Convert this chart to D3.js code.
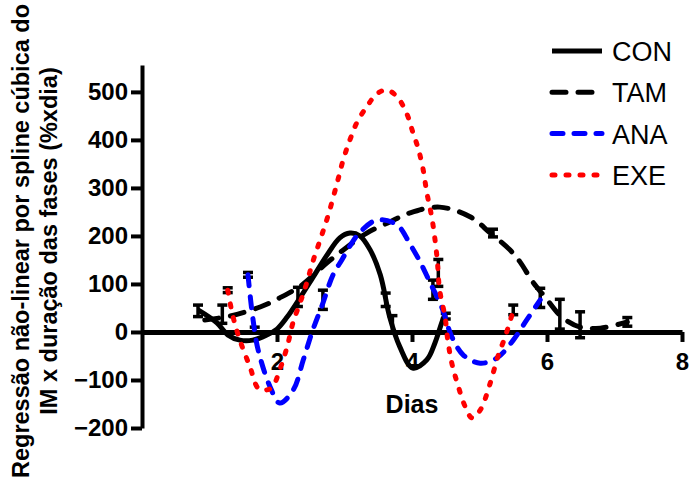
<!DOCTYPE html>
<html>
<head>
<meta charset="utf-8">
<script src="https://d3js.org/d3.v7.min.js"></script>
<style>
  body { margin: 0; background: #fff; }
  svg { display: block; font-family: "Liberation Sans", Arial, Helvetica, sans-serif; }
  .axis path, .axis line { stroke: #000; }
  .axis text { font-size: 24px; font-weight: bold; fill: #000; }
</style>
</head>
<body>
<div id="chart"></div>
<script>
// Fitted spline curves (x = dias, y = %xdia)
var conX = [0.83, 1.11, 1.27, 1.45, 1.64, 1.85, 2.00, 2.15, 2.34, 2.53, 2.74, 2.93, 3.08, 3.23, 3.38, 3.53, 3.67, 3.82, 4.01, 4.22, 4.34, 4.44, 4.50];
var conY = [46, 19, -6, -17, -17, -6, 6, 31, 71, 113, 160, 196, 206, 200, 171, 119, 31, -31, -75, -58, -23, 19, 42];

var tamX = [0.93, 1.30, 1.75, 2.04, 2.37, 2.74, 3.04, 3.33, 3.67, 3.97, 4.41, 4.86, 5.16, 5.45, 5.60, 5.79, 5.97, 6.22, 6.49, 6.79, 7.19];
var tamY = [25, 33, 52, 71, 98, 144, 177, 206, 229, 248, 260, 240, 206, 171, 146, 104, 73, 31, 10, 8, 21];

var anaX = [1.57, 1.64, 1.72, 1.90, 2.04, 2.24, 2.39, 2.53, 2.67, 2.83, 2.96, 3.08, 3.23, 3.48, 3.78, 3.97, 4.12, 4.27, 4.44, 4.59, 4.76, 5.01, 5.26, 5.50, 5.70, 5.90];
var anaY = [119, 31, -37, -115, -148, -121, -58, 4, 56, 119, 150, 179, 208, 233, 223, 183, 146, 102, 52, -10, -48, -65, -54, -17, 25, 67];

var exeX = [1.27, 1.35, 1.45, 1.60, 1.72, 1.82, 1.93, 2.04, 2.15, 2.24, 2.34, 2.44, 2.53, 2.64, 2.76, 2.89, 2.98, 3.08, 3.19, 3.33, 3.48, 3.63, 3.79, 3.93, 4.01, 4.09, 4.16, 4.22, 4.30, 4.37, 4.41, 4.49, 4.53, 4.59, 4.67, 4.79, 4.89, 5.01, 5.16, 5.27, 5.38, 5.48];
var exeY = [87, 31, -17, -73, -117, -121, -115, -79, -31, 21, 60, 102, 146, 192, 244, 310, 358, 400, 438, 469, 496, 504, 488, 452, 417, 383, 342, 290, 233, 156, 87, 31, -17, -65, -106, -156, -179, -163, -106, -52, -10, 35];

// Error bars: position, mean, SEM
var errX = [0.83, 1.19, 1.27, 1.57, 1.67, 2.31, 2.68, 3.61, 3.71, 4.31, 4.39, 4.50, 5.20, 5.50, 5.90, 6.19, 6.49, 7.19];
var errMean = [44, 37, 87, 119, 4, 73, 67, 67, 17, 88, 123, 33, 206, 46, 71, 37, 15, 21];
var errSem = [12, 19, 5, 5, 6, 20, 20, 14, 17, 20, 28, 6, 8, 10, 20, 31, 27, 9];

var seriesNames = ['CON', 'TAM', 'ANA', 'EXE'];
var yTicks = [-200, -100, 0, 100, 200, 300, 400, 500];
var xTicks = [2, 4, 6, 8];

var STYLES = {
  CON: { color: '#000', dash: null },
  TAM: { color: '#000', dash: '14,12' },
  ANA: { color: '#0000ff', dash: '11,11' },
  EXE: { color: '#ff0000', dash: '3,11' }
};

var render = function() {
  var width = 691, height = 487;

  var zip = (xs, ys) => xs.map((x, i) => ({ x: x, y: ys[i] }));
  var data = [
    { name: 'CON', values: zip(conX, conY) },
    { name: 'TAM', values: zip(tamX, tamY) },
    { name: 'ANA', values: zip(anaX, anaY) },
    { name: 'EXE', values: zip(exeX, exeY) }
  ];

  var svg = d3.select('#chart')
    .append('svg')
    .attr('width', width)
    .attr('height', height);

  var xScale = d3.scaleLinear().domain([0, 8]).range([142, 682]);
  var yScale = d3.scaleLinear().domain([-200, 556]).range([428, 65]);

  // Axes
  var yAxis = d3.axisLeft(yScale)
    .tickValues(yTicks)
    .tickSize(11)
    .tickSizeOuter(0)
    .tickPadding(3);

  var xAxis = d3.axisBottom(xScale)
    .tickValues(xTicks)
    .tickSize(10)
    .tickSizeOuter(0)
    .tickPadding(11);

  var yG = svg.append('g')
    .attr('class', 'y axis')
    .attr('transform', `translate(${xScale(0)},0)`)
    .call(yAxis);
  yG.select('.domain').attr('stroke-width', 4);
  yG.selectAll('.tick line').attr('stroke-width', 4);

  var xG = svg.append('g')
    .attr('class', 'x axis')
    .attr('transform', `translate(0,${yScale(0)})`)
    .call(xAxis);
  xG.select('.domain').attr('stroke-width', 5);
  xG.selectAll('.tick line').attr('stroke-width', 4);

  // Axis titles
  svg.append('text')
    .attr('x', 412)
    .attr('y', 413)
    .attr('text-anchor', 'middle')
    .style('font-size', '25px')
    .style('font-weight', 'bold')
    .text('Dias');

  var yTitle = svg.append('text')
    .attr('transform', 'translate(0,241) rotate(-90)')
    .attr('text-anchor', 'middle')
    .style('font-size', '23.5px')
    .style('font-weight', 'bold');
  yTitle.append('tspan').attr('x', 0).attr('y', 29).text('Regressão não-linear por spline cúbica do');
  yTitle.append('tspan').attr('x', 0).attr('y', 57).text('IM x duração das fases (%xdia)');

  // Error bars
  var err = svg.append('g').attr('class', 'errbars')
    .selectAll('g')
    .data(errX.map((x, i) => ({ x: x, m: errMean[i], s: errSem[i] })))
    .enter().append('g')
    .attr('stroke', '#000')
    .attr('stroke-width', 3.5);
  err.append('line')
    .attr('x1', d => xScale(d.x)).attr('x2', d => xScale(d.x))
    .attr('y1', d => yScale(d.m - d.s)).attr('y2', d => yScale(d.m + d.s));
  [-1, 1].forEach(function(sgn) {
    err.append('line')
      .attr('x1', d => xScale(d.x) - 5).attr('x2', d => xScale(d.x) + 5)
      .attr('y1', d => yScale(d.m + sgn * d.s)).attr('y2', d => yScale(d.m + sgn * d.s));
  });

  // Spline curves
  var line = d3.line()
    .x(d => xScale(d.x))
    .y(d => yScale(d.y))
    .curve(d3.curveCatmullRom.alpha(0.5));

  svg.append('g')
    .attr('class', 'lines')
    .selectAll('path')
    .data(data)
    .enter()
    .append('path')
    .attr('fill', 'none')
    .attr('stroke', d => STYLES[d.name].color)
    .attr('stroke-width', 5)
    .attr('stroke-linecap', d => d.name == 'CON' ? 'butt' : 'round')
    .attr('stroke-dasharray', d => STYLES[d.name].dash)
    .attr('d', d => line(d.values));

  // Legend
  var legend = svg.append('g')
    .attr('class', 'legend')
    .selectAll('g')
    .data(seriesNames)
    .enter()
    .append('g')
    .attr('transform', (d, i) => `translate(0,${51 + i * 41.3})`);

  legend.append('line')
    .attr('x1', 552).attr('x2', 602)
    .attr('stroke', d => STYLES[d].color)
    .attr('stroke-width', 5)
    .attr('stroke-linecap', d => d == 'CON' ? 'butt' : 'round')
    .attr('stroke-dasharray', d => STYLES[d].dash);

  legend.append('text')
    .attr('x', 612)
    .attr('y', 10)
    .style('font-size', '27px')
    .text(d => d);
};

window.onload = render;
</script>
</body>
</html>
